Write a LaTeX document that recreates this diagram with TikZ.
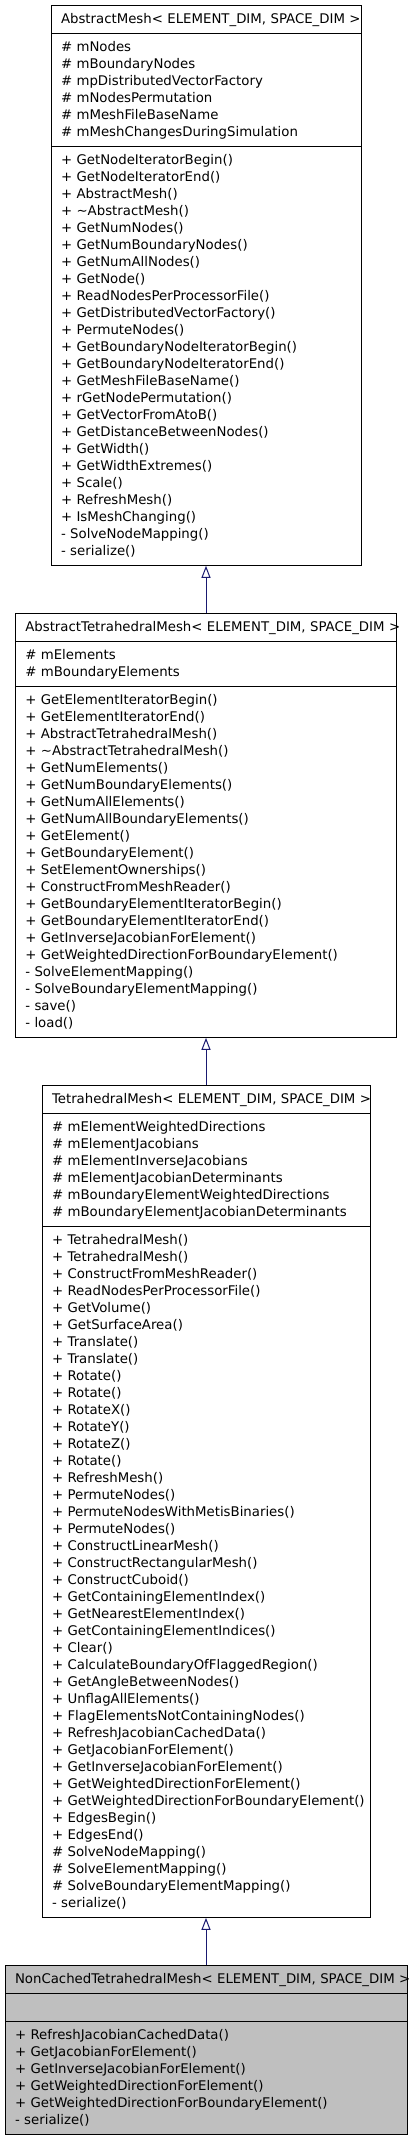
\documentclass[tikz,border=0pt]{standalone}
\usepackage{fontspec}
\setmainfont{DejaVu Sans}
\usetikzlibrary{shapes.multipart,positioning,arrows.meta}
\definecolor{edgeblue}{HTML}{191970}
\definecolor{classgray}{HTML}{BFBFBF}
\newcommand{\umlrow}[1]{\mbox{\rule[-4.1pt]{0pt}{17pt}#1}}

\begin{document}
\begin{tikzpicture}[x=1pt,y=1pt,
  classbox/.style={draw,line width=1pt,rectangle split,rectangle split parts=3,
    inner xsep=10pt,inner ysep=5pt,align=left,
    font=\fontsize{13.3}{17}\selectfont},
  inherit/.style={draw=edgeblue,line width=1pt,-{Triangle[open,width=9pt,length=12pt]}}]
\useasboundingbox (0,0) rectangle (411,-2141);
\node[classbox,text width=290pt,anchor=north] (am) at (206,-4.8) {\umlrow{AbstractMesh< ELEMENT\_DIM, SPACE\_DIM >}
\nodepart{second}\umlrow{\# mNodes}\\
\umlrow{\# mBoundaryNodes}\\
\umlrow{\# mpDistributedVectorFactory}\\
\umlrow{\# mNodesPermutation}\\
\umlrow{\# mMeshFileBaseName}\\
\umlrow{\# mMeshChangesDuringSimulation}
\nodepart{third}\umlrow{+ GetNodeIteratorBegin()}\\
\umlrow{+ GetNodeIteratorEnd()}\\
\umlrow{+ AbstractMesh()}\\
\umlrow{+ \textasciitilde AbstractMesh()}\\
\umlrow{+ GetNumNodes()}\\
\umlrow{+ GetNumBoundaryNodes()}\\
\umlrow{+ GetNumAllNodes()}\\
\umlrow{+ GetNode()}\\
\umlrow{+ ReadNodesPerProcessorFile()}\\
\umlrow{+ GetDistributedVectorFactory()}\\
\umlrow{+ PermuteNodes()}\\
\umlrow{+ GetBoundaryNodeIteratorBegin()}\\
\umlrow{+ GetBoundaryNodeIteratorEnd()}\\
\umlrow{+ GetMeshFileBaseName()}\\
\umlrow{+ rGetNodePermutation()}\\
\umlrow{+ GetVectorFromAtoB()}\\
\umlrow{+ GetDistanceBetweenNodes()}\\
\umlrow{+ GetWidth()}\\
\umlrow{+ GetWidthExtremes()}\\
\umlrow{+ Scale()}\\
\umlrow{+ RefreshMesh()}\\
\umlrow{+ IsMeshChanging()}\\
\umlrow{- SolveNodeMapping()}\\
\umlrow{- serialize()}};
\node[classbox,text width=361.4pt,below=47pt of am] (atm) {\umlrow{AbstractTetrahedralMesh< ELEMENT\_DIM, SPACE\_DIM >}
\nodepart{second}\umlrow{\# mElements}\\
\umlrow{\# mBoundaryElements}
\nodepart{third}\umlrow{+ GetElementIteratorBegin()}\\
\umlrow{+ GetElementIteratorEnd()}\\
\umlrow{+ AbstractTetrahedralMesh()}\\
\umlrow{+ \textasciitilde AbstractTetrahedralMesh()}\\
\umlrow{+ GetNumElements()}\\
\umlrow{+ GetNumBoundaryElements()}\\
\umlrow{+ GetNumAllElements()}\\
\umlrow{+ GetNumAllBoundaryElements()}\\
\umlrow{+ GetElement()}\\
\umlrow{+ GetBoundaryElement()}\\
\umlrow{+ SetElementOwnerships()}\\
\umlrow{+ ConstructFromMeshReader()}\\
\umlrow{+ GetBoundaryElementIteratorBegin()}\\
\umlrow{+ GetBoundaryElementIteratorEnd()}\\
\umlrow{+ GetInverseJacobianForElement()}\\
\umlrow{+ GetWeightedDirectionForBoundaryElement()}\\
\umlrow{- SolveElementMapping()}\\
\umlrow{- SolveBoundaryElementMapping()}\\
\umlrow{- save()}\\
\umlrow{- load()}};
\node[classbox,text width=308pt,below=47pt of atm] (tm) {\umlrow{TetrahedralMesh< ELEMENT\_DIM, SPACE\_DIM >}
\nodepart{second}\umlrow{\# mElementWeightedDirections}\\
\umlrow{\# mElementJacobians}\\
\umlrow{\# mElementInverseJacobians}\\
\umlrow{\# mElementJacobianDeterminants}\\
\umlrow{\# mBoundaryElementWeightedDirections}\\
\umlrow{\# mBoundaryElementJacobianDeterminants}
\nodepart{third}\umlrow{+ TetrahedralMesh()}\\
\umlrow{+ TetrahedralMesh()}\\
\umlrow{+ ConstructFromMeshReader()}\\
\umlrow{+ ReadNodesPerProcessorFile()}\\
\umlrow{+ GetVolume()}\\
\umlrow{+ GetSurfaceArea()}\\
\umlrow{+ Translate()}\\
\umlrow{+ Translate()}\\
\umlrow{+ Rotate()}\\
\umlrow{+ Rotate()}\\
\umlrow{+ RotateX()}\\
\umlrow{+ RotateY()}\\
\umlrow{+ RotateZ()}\\
\umlrow{+ Rotate()}\\
\umlrow{+ RefreshMesh()}\\
\umlrow{+ PermuteNodes()}\\
\umlrow{+ PermuteNodesWithMetisBinaries()}\\
\umlrow{+ PermuteNodes()}\\
\umlrow{+ ConstructLinearMesh()}\\
\umlrow{+ ConstructRectangularMesh()}\\
\umlrow{+ ConstructCuboid()}\\
\umlrow{+ GetContainingElementIndex()}\\
\umlrow{+ GetNearestElementIndex()}\\
\umlrow{+ GetContainingElementIndices()}\\
\umlrow{+ Clear()}\\
\umlrow{+ CalculateBoundaryOfFlaggedRegion()}\\
\umlrow{+ GetAngleBetweenNodes()}\\
\umlrow{+ UnflagAllElements()}\\
\umlrow{+ FlagElementsNotContainingNodes()}\\
\umlrow{+ RefreshJacobianCachedData()}\\
\umlrow{+ GetJacobianForElement()}\\
\umlrow{+ GetInverseJacobianForElement()}\\
\umlrow{+ GetWeightedDirectionForElement()}\\
\umlrow{+ GetWeightedDirectionForBoundaryElement()}\\
\umlrow{+ EdgesBegin()}\\
\umlrow{+ EdgesEnd()}\\
\umlrow{\# SolveNodeMapping()}\\
\umlrow{\# SolveElementMapping()}\\
\umlrow{\# SolveBoundaryElementMapping()}\\
\umlrow{- serialize()}};
\node[classbox,fill=classgray,text width=382pt,below=47pt of tm] (nctm) {\umlrow{NonCachedTetrahedralMesh< ELEMENT\_DIM, SPACE\_DIM >}
\nodepart{second}\umlrow{}
\nodepart{third}\umlrow{+ RefreshJacobianCachedData()}\\
\umlrow{+ GetJacobianForElement()}\\
\umlrow{+ GetInverseJacobianForElement()}\\
\umlrow{+ GetWeightedDirectionForElement()}\\
\umlrow{+ GetWeightedDirectionForBoundaryElement()}\\
\umlrow{- serialize()}};
\draw[inherit] (atm.north) -- (am.south);
\draw[inherit] (tm.north) -- (atm.south);
\draw[inherit] (nctm.north) -- (tm.south);
\end{tikzpicture}
\end{document}
